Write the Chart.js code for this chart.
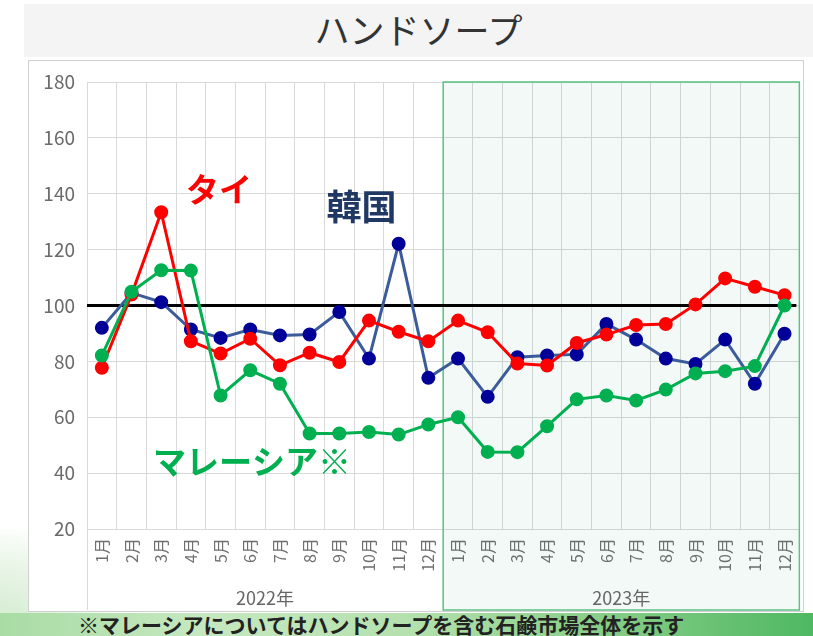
<!DOCTYPE html>
<html>
<head>
<meta charset="utf-8">
<script src="https://cdn.jsdelivr.net/npm/chart.js@4"></script>
<style>
  body { margin: 0; width: 813px; height: 636px; overflow: hidden; background: #fff; position: relative;
         font-family: "Noto Sans CJK JP", "Noto Sans", sans-serif; }
  #swoosh { position: absolute; left: 0; top: 530px; width: 110px; height: 106px;
            background: radial-gradient(ellipse at 0% 100%, #cfeacb 0%, #ebf6e9 50%, rgba(255,255,255,0) 75%); }
  #titlebar { position: absolute; left: 24px; top: 4px; width: 789px; height: 53px; background: #f4f4f4;
              text-align: center; font-size: 35px; line-height: 50px; color: #333; font-weight: 400; }
  #box { position: absolute; left: 28px; top: 60px; width: 774px; height: 550px; border: 1px solid #d0d0d0; background: #fff; }
  #footer { position: absolute; left: 0; top: 613px; width: 813px; height: 23px;
            background: linear-gradient(90deg, #a9dca5 0%, #c6e8c0 25%, #b5e1ae 50%, #86cd86 75%, #4fb863 100%); }
  #footer span { position: absolute; left: 78px; top: -2px; font-size: 21px; font-weight: 700; color: #222; line-height: 26px; white-space: nowrap; }
  canvas { position: absolute; left: 0; top: 0; }
</style>
</head>
<body>
<div id="swoosh"></div>
<div id="titlebar">ハンドソープ</div>
<div id="box"></div>
<div id="footer"><span>※マレーシアについてはハンドソープを含む石鹸市場全体を示す</span></div>
<canvas id="myChart" width="813" height="636"></canvas>
<script>
// Month labels (2022 then 2023)
const months = ['1月','2月','3月','4月','5月','6月','7月','8月','9月','10月','11月','12月'];
const labels = months.concat(months);
const years = ['2022年', '2023年'];

// Index values
const korea = [92.0, 104.5, 101.2, 91.4, 88.4, 91.4, 89.3, 89.6, 97.7, 81.0, 122.1, 74.1,
               81.0, 67.3, 81.5, 82.1, 82.5, 93.4, 87.8, 81.0, 79.1, 87.8, 72.0, 89.9];
const thailand = [77.7, 103.9, 133.4, 87.2, 82.8, 88.1, 78.6, 83.1, 79.8, 94.6, 90.6, 87.2,
                  94.6, 90.4, 79.2, 78.5, 86.6, 89.6, 93.0, 93.4, 100.4, 109.7, 106.7, 103.7];
const malaysia = [82.1, 104.9, 112.6, 112.5, 67.8, 76.8, 72.0, 54.2, 54.2, 54.7, 53.8, 57.4,
                  60.0, 47.6, 47.5, 56.8, 66.4, 67.8, 66.0, 69.9, 75.7, 76.5, 78.3, 100.0];
const baseline = 100;

const fontFamily = '"Noto Sans CJK JP", "Noto Sans", sans-serif';

// Shaded 2023 block, year labels and the 100 line
const decorPlugin = {
  id: 'decor',
  beforeDatasetsDraw(chart) {
    const { ctx, chartArea, scales } = chart;
    const x = scales.x, y = scales.y;
    const splitX = x.getPixelForValue(11.5);
    const boxBottom = 610;

    ctx.save();
    // 2023 shading
    ctx.fillStyle = 'rgba(0, 140, 90, 0.05)';
    ctx.fillRect(splitX, chartArea.top, chartArea.right - splitX, boxBottom - chartArea.top);
    ctx.strokeStyle = '#5cbf84';
    ctx.lineWidth = 1.5;
    ctx.strokeRect(splitX, chartArea.top, chartArea.right - splitX, boxBottom - chartArea.top);

    // left axis line running into the label area
    ctx.strokeStyle = '#d9d9d9';
    ctx.lineWidth = 1;
    ctx.beginPath();
    ctx.moveTo(chartArea.left + 0.5, chartArea.bottom);
    ctx.lineTo(chartArea.left + 0.5, boxBottom);
    ctx.stroke();

    // black reference line at 100
    const y100 = y.getPixelForValue(baseline);
    ctx.strokeStyle = '#000';
    ctx.lineWidth = 3;
    ctx.beginPath();
    ctx.moveTo(chartArea.left, y100);
    ctx.lineTo(chartArea.right - 3, y100);
    ctx.stroke();

    // year labels
    ctx.fillStyle = '#666';
    ctx.font = '18px ' + fontFamily;
    ctx.textAlign = 'center';
    ctx.textBaseline = 'middle';
    ctx.fillText(years[0], x.getPixelForValue(5.5), 598);
    ctx.fillText(years[1], x.getPixelForValue(17.5), 598);
    ctx.restore();
  },
  afterDatasetsDraw(chart) {
    const { ctx, scales } = chart;
    const x = scales.x, y = scales.y;
    ctx.save();
    ctx.textBaseline = 'middle';
    ctx.font = 'bold 33px ' + fontFamily;
    ctx.textAlign = 'center';
    ctx.fillStyle = '#ff0000';
    ctx.fillText('タイ', x.getPixelForValue(3.95), y.getPixelForValue(141.5));
    ctx.font = 'bold 35px ' + fontFamily;
    ctx.fillStyle = '#1f3864';
    ctx.fillText('韓国', x.getPixelForValue(8.75), y.getPixelForValue(135.4));
    ctx.font = 'bold 33px ' + fontFamily;
    ctx.textAlign = 'left';
    ctx.fillStyle = '#00b050';
    ctx.fillText('マレーシア※', x.getPixelForValue(1.72), y.getPixelForValue(44.2));
    ctx.restore();
  }
};

const ctx = document.getElementById('myChart').getContext('2d');
new Chart(ctx, {
  type: 'line',
  data: {
    labels: labels,
    datasets: [
      {
        label: 'マレーシア',
        data: malaysia,
        borderColor: '#00b050',
        backgroundColor: '#00b050',
        borderWidth: 3,
        pointRadius: 5.5,
        pointHoverRadius: 5.5,
        tension: 0
      },
      {
        label: 'タイ',
        data: thailand,
        borderColor: '#ff0000',
        backgroundColor: '#ff0000',
        borderWidth: 3,
        pointRadius: 5.5,
        pointHoverRadius: 5.5,
        tension: 0
      },
      {
        label: '韓国',
        data: korea,
        borderColor: '#3b5b9b',
        backgroundColor: '#000099',
        pointBorderColor: '#000099',
        borderWidth: 3,
        pointRadius: 5.5,
        pointHoverRadius: 5.5,
        tension: 0
      }
    ]
  },
  options: {
    responsive: false,
    animation: false,
    layout: { padding: { top: 82, right: 13, left: 0, bottom: 0 } },
    plugins: {
      legend: { display: false },
      title: { display: false },
      tooltip: { enabled: false }
    },
    scales: {
      x: {
        offset: true,
        grid: { offset: true, color: '#d9d9d9', drawTicks: false },
        border: { display: false },
        ticks: {
          maxRotation: 90,
          minRotation: 90,
          padding: 9,
          color: '#6f6f6f',
          font: { size: 16, family: fontFamily }
        },
        afterFit(scale) { scale.height = 107; }
      },
      y: {
        min: 20,
        max: 180,
        grid: { color: '#d9d9d9', drawTicks: false },
        border: { display: false },
        ticks: {
          stepSize: 20,
          padding: 12,
          color: '#6a6a6a',
          font: { size: 19, family: fontFamily }
        },
        afterFit(scale) { scale.width = 87; }
      }
    }
  },
  plugins: [decorPlugin]
});
</script>
</body>
</html>
